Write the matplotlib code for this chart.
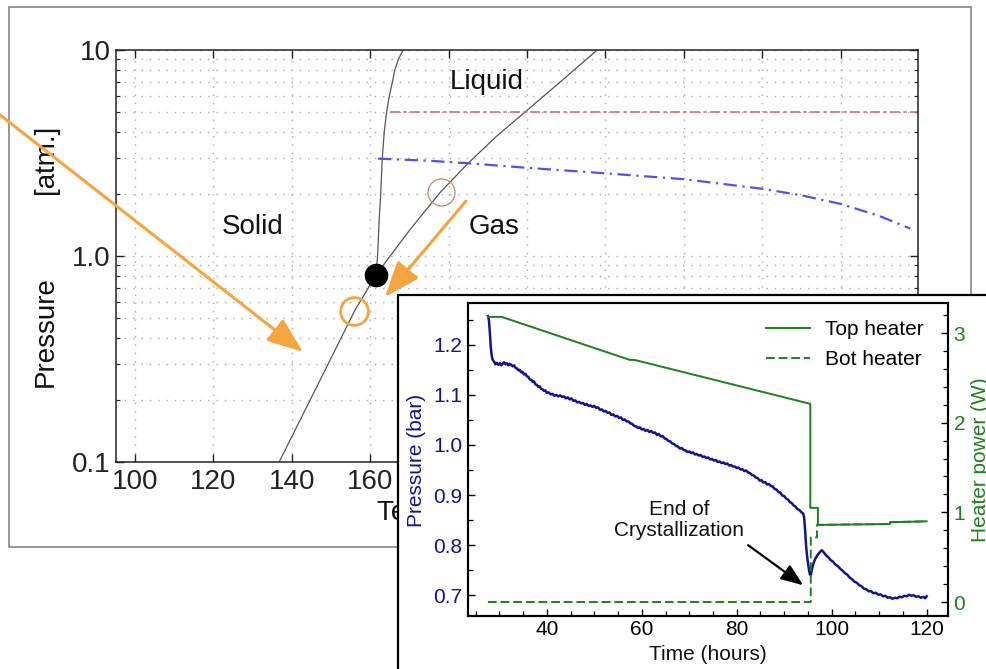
import matplotlib
matplotlib.use("Agg")
import matplotlib.pyplot as plt
from matplotlib.patches import Rectangle, FancyArrowPatch
from matplotlib.transforms import Bbox
from matplotlib.ticker import FixedLocator, FixedFormatter, NullFormatter, MultipleLocator, FormatStrFormatter

plt.rcParams['font.family'] = ['Liberation Sans', 'DejaVu Sans']

W, H, DPI = 986, 669, 100


def fx(px):
    return px / W


def fy(py):
    return 1 - py / H


# ---------------- Xenon phase diagram ----------------
melt_T = [161.5, 161.9, 162.3, 162.7, 163.1, 163.6, 164.2, 164.9, 165.7, 166.3, 167.2, 168.4]
melt_P = [0.81, 1.0, 1.5, 2.0, 3.0, 4.0, 5.0, 6.0, 7.0, 8.0, 9.0, 10.0]

vap_T = [136.8, 146.0, 156.0, 161.5, 170.0, 178.0, 185.0, 192.0, 199.5, 208.5, 217.9]
vap_P = [0.10, 0.224, 0.54, 0.81, 1.33, 2.05, 2.82, 3.78, 5.0, 7.0, 10.0]

operating_T = [165.0, 300.0]
operating_P = [5.0, 5.0]

sat_T = [162.0, 175.0, 185.0, 200.0, 220.0, 240.0, 260.0, 270.0, 280.0, 290.0, 297.7]
sat_P = [2.97, 2.90, 2.82, 2.68, 2.52, 2.36, 2.12, 1.97, 1.79, 1.56, 1.36]

triple_point = (161.5, 0.81)
fill_point = (178.0, 2.05)
freeze_point = (156.0, 0.54)

temp_ticks = [100, 120, 140, 160, 180, 200, 220, 240, 260, 280]
pres_ticks = [0.1, 1.0, 10.0]
pres_tick_labels = ['0.1', '1.0', '10']

phase_names = ['Liquid', 'Solid', 'Gas']
phase_T = [189.7, 130.1, 191.7]
phase_P = [7.0, 1.39, 1.39]

# ---------------- Crystallization run ----------------
run_time = [
    27.6, 27.8, 28.0, 28.2, 28.4, 28.6, 28.9, 29.2, 29.5, 29.8, 30.1, 30.4, 30.7, 31.0, 31.3, 31.6,
    31.9, 32.2, 32.5, 32.8, 33.1, 33.4, 33.7, 34.0, 34.3, 34.6, 34.9, 35.2, 35.5, 35.8, 36.1, 36.4,
    36.7, 37.0, 37.3, 37.6, 37.9, 38.2, 38.5, 38.8, 39.1, 39.4, 39.7, 40.0, 40.4, 40.8, 41.2, 41.6,
    42.0, 42.4, 42.8, 43.2, 43.6, 44.0, 44.4, 44.8, 45.2, 45.6, 46.0, 46.4, 46.8, 47.2, 47.6, 48.0,
    48.4, 48.8, 49.2, 49.6, 50.0, 50.4, 50.8, 51.2, 51.6, 52.0, 52.4, 52.8, 53.2, 53.6, 54.0, 54.4,
    54.8, 55.2, 55.6, 56.0, 56.4, 56.8, 57.2, 57.6, 58.0, 58.4, 58.8, 59.2, 59.6, 60.0, 60.4, 60.8,
    61.2, 61.6, 62.0, 62.4, 62.8, 63.2, 63.6, 64.0, 64.4, 64.8, 65.2, 65.6, 66.0, 66.4, 66.8, 67.2,
    67.6, 68.0, 68.4, 68.8, 69.2, 69.6, 70.0, 70.4, 70.8, 71.2, 71.6, 72.0, 72.4, 72.8, 73.2, 73.6,
    74.0, 74.4, 74.8, 75.2, 75.6, 76.0, 76.4, 76.8, 77.2, 77.6, 78.0, 78.4, 78.8, 79.2, 79.6, 80.0,
    80.4, 80.8, 81.2, 81.6, 82.0, 82.4, 82.8, 83.2, 83.6, 84.0, 84.4, 84.8, 85.2, 85.6, 86.0, 86.4,
    86.8, 87.2, 87.6, 88.0, 88.4, 88.8, 89.2, 89.6, 90.0, 90.4, 90.8, 91.2, 91.6, 92.0, 92.4, 92.8,
    93.2, 93.6, 94.0, 94.2, 94.4, 94.6, 94.8, 95.0, 95.2, 95.4, 95.6, 95.8, 96.1, 96.5, 97.0, 97.5,
    97.9, 98.3, 98.8, 99.3, 99.8, 100.3, 100.8, 101.3, 101.8, 102.3, 102.8, 103.3, 103.8, 104.3,
    104.8, 105.3, 105.8, 106.3, 106.8, 107.3, 107.8, 108.3, 108.8, 109.3, 109.8, 110.3, 110.8,
    111.3, 111.8, 112.3, 112.8, 113.3, 113.8, 114.3, 114.8, 115.3, 115.8, 116.3, 116.8, 117.3,
    117.8, 118.3, 118.8, 119.3, 119.7, 120.0,
]
run_pressure = [
    1.257, 1.250, 1.225, 1.195, 1.178, 1.170, 1.166, 1.161, 1.164, 1.160, 1.163, 1.159, 1.162, 1.165, 1.161, 1.163,
    1.159, 1.162, 1.160, 1.157, 1.159, 1.154, 1.153, 1.149, 1.150, 1.145, 1.146, 1.141, 1.142, 1.137, 1.136, 1.131,
    1.130, 1.126, 1.127, 1.121, 1.120, 1.116, 1.117, 1.112, 1.111, 1.108, 1.109, 1.104, 1.105, 1.101, 1.102, 1.098,
    1.100, 1.097, 1.099, 1.096, 1.097, 1.093, 1.095, 1.091, 1.093, 1.088, 1.089, 1.085, 1.086, 1.083, 1.084, 1.080,
    1.082, 1.078, 1.079, 1.076, 1.078, 1.074, 1.075, 1.070, 1.071, 1.067, 1.068, 1.064, 1.065, 1.060, 1.061, 1.057,
    1.058, 1.054, 1.055, 1.050, 1.051, 1.047, 1.047, 1.043, 1.042, 1.038, 1.037, 1.034, 1.035, 1.031, 1.032, 1.028,
    1.030, 1.026, 1.028, 1.024, 1.025, 1.020, 1.022, 1.017, 1.018, 1.013, 1.012, 1.008, 1.007, 1.003, 1.002, 0.998,
    0.997, 0.993, 0.994, 0.990, 0.989, 0.986, 0.987, 0.984, 0.985, 0.981, 0.982, 0.979, 0.980, 0.976, 0.977, 0.974,
    0.975, 0.971, 0.972, 0.969, 0.970, 0.966, 0.967, 0.964, 0.965, 0.962, 0.963, 0.959, 0.960, 0.957, 0.957, 0.954,
    0.955, 0.951, 0.952, 0.948, 0.949, 0.945, 0.944, 0.940, 0.939, 0.935, 0.934, 0.929, 0.930, 0.925, 0.926, 0.921,
    0.922, 0.918, 0.917, 0.912, 0.911, 0.906, 0.905, 0.899, 0.898, 0.893, 0.891, 0.886, 0.884, 0.879, 0.877, 0.872,
    0.870, 0.866, 0.863, 0.855, 0.830, 0.800, 0.780, 0.765, 0.752, 0.742, 0.740, 0.750, 0.762, 0.772, 0.780, 0.786,
    0.790, 0.786, 0.780, 0.776, 0.770, 0.767, 0.761, 0.758, 0.753, 0.749, 0.744, 0.741, 0.735, 0.732,
    0.727, 0.725, 0.720, 0.718, 0.713, 0.712, 0.708, 0.708, 0.704, 0.705, 0.701, 0.702, 0.698,
    0.699, 0.695, 0.696, 0.693, 0.695, 0.694, 0.697, 0.696, 0.699, 0.698, 0.701, 0.699, 0.700,
    0.697, 0.698, 0.695, 0.697, 0.694, 0.698,
]

top_heater_time = [27.6, 30.5, 57.5, 58.5, 95.5, 95.5, 97.1, 97.1, 112.3, 112.3, 120.0]
top_heater_W = [3.18, 3.18, 2.70, 2.70, 2.21, 1.05, 1.05, 0.86, 0.87, 0.89, 0.90]

bot_heater_time = [27.6, 95.6, 95.6, 96.9, 96.9, 112.3, 112.3, 120.0]
bot_heater_W = [0.0, 0.0, 0.72, 0.72, 0.86, 0.87, 0.89, 0.90]

end_of_crystallization = (94.0, 0.72)

ORANGE = '#f5a540'
NAVY = '#14148a'
GREEN = '#1f7f1f'

fig = plt.figure(figsize=(W / DPI, H / DPI), dpi=DPI)
fig.patch.set_facecolor('white')

# ---------------- phase diagram axes ----------------
ax = fig.add_axes([fx(116), fy(462), (918 - 116) / W, (462 - 50) / H])
ax.set_yscale('log')
ax.set_xlim(95.2, 299.7)
ax.set_ylim(0.1, 10)
ax.set_axisbelow(True)

ax.xaxis.set_major_locator(FixedLocator(temp_ticks))
ax.xaxis.set_major_formatter(FixedFormatter([str(t) for t in temp_ticks]))
ax.xaxis.set_minor_locator(FixedLocator([]))
ax.yaxis.set_major_locator(FixedLocator(pres_ticks))
ax.yaxis.set_major_formatter(FixedFormatter(pres_tick_labels))
ax.yaxis.set_minor_locator(FixedLocator([m * 10.0 ** e for e in (-1, 0) for m in range(2, 10)]))
ax.yaxis.set_minor_formatter(NullFormatter())

ax.tick_params(which='both', direction='in', top=True, right=True, labelsize=20, colors='#222222')
ax.tick_params(which='major', length=6, width=1.0)
ax.tick_params(which='minor', length=3, width=0.8)
ax.tick_params(axis='x', pad=5)
ax.tick_params(axis='y', pad=4)
for s in ax.spines.values():
    s.set_linewidth(1.1)
    s.set_color('#222222')

ax.grid(True, axis='x', which='major', ls=(0, (1, 5)), color='#a8a8a8', lw=1.0)
ax.grid(True, axis='y', which='both', ls=(0, (1, 5)), color='#a8a8a8', lw=1.0)

ax.plot(melt_T, melt_P, color='#555555', lw=0.9)
ax.plot(vap_T, vap_P, color='#555555', lw=0.9)
ax.plot(operating_T, operating_P, color='#cc7373', lw=1.2, ls=(0, (6, 2, 2, 2)))
ax.plot(sat_T, sat_P, color='#5252ea', lw=1.6, ls=(0, (6, 2.5, 1, 2.5)))

ax.plot(*fill_point, 'o', ms=19.5, mfc='none', mec='#d27b7b', mew=0.9)
ax.plot(*freeze_point, 'o', ms=20, mfc='none', mec=ORANGE, mew=2.0)
ax.plot(*triple_point, 'o', ms=16, color='black', zorder=5)

for name, t, p in zip(phase_names, phase_T, phase_P):
    ax.text(t, p, name, fontsize=20, ha='center', va='center', color='#111111')

fig.text(fx(46), fy(332), 'Pressure', rotation=90, ha='center', va='center', fontsize=20, color='#111111')
fig.text(fx(46), fy(159), '[atm.]', rotation=90, ha='center', va='center', fontsize=20, color='#111111')
xlabel = fig.text(fx(377), fy(513), 'Temperature [K]', ha='left', va='center', fontsize=20,
                  color='#111111', zorder=0.5)
xlabel.set_clip_box(Bbox([[0, 0], [fx(398) * W, H]]))

fig.add_artist(Rectangle((fx(9), fy(547)), (971 - 9) / W, (547 - 7) / H, transform=fig.transFigure,
                         fill=False, ec='#7a7a7a', lw=1.1, zorder=0.6))

for start, end in [((-5, 111), (303, 352)), ((466, 201), (385, 297))]:
    fig.add_artist(FancyArrowPatch((fx(start[0]), fy(start[1])), (fx(end[0]), fy(end[1])),
                                   transform=fig.transFigure, arrowstyle='-|>,head_length=1.1,head_width=0.42',
                                   mutation_scale=20, color=ORANGE, lw=2.2, shrinkA=0, shrinkB=0, zorder=4))

# ---------------- crystallization inset ----------------
fig.add_artist(Rectangle((fx(398), fy(720)), (1020 - 398) / W, (720 - 295) / H, transform=fig.transFigure,
                         fc='white', ec='black', lw=1.6, zorder=1))

axp = fig.add_axes([fx(468), fy(616), (948 - 468) / W, (616 - 303) / H], zorder=2)
axh = axp.twinx()
axh.set_zorder(3)
axh.patch.set_visible(False)

axp.set_xlim(23.4, 124.5)
axp.set_ylim(0.6586, 1.2834)
axh.set_ylim(-0.156, 3.335)

axp.plot(run_time, run_pressure, color=NAVY, lw=1.8)
axh.plot(top_heater_time, top_heater_W, color=GREEN, lw=1.4, label='Top heater')
axh.plot(bot_heater_time, bot_heater_W, color=GREEN, lw=1.4, ls=(0, (4.5, 2)), label='Bot heater')

axp.xaxis.set_major_locator(MultipleLocator(20))
axp.xaxis.set_minor_locator(MultipleLocator(5))
axp.yaxis.set_major_locator(MultipleLocator(0.1))
axp.yaxis.set_minor_locator(MultipleLocator(0.05))
axp.yaxis.set_major_formatter(FormatStrFormatter('%.1f'))
axh.yaxis.set_major_locator(MultipleLocator(1))
axh.yaxis.set_minor_locator(MultipleLocator(0.2))

axp.tick_params(which='both', direction='in', top=False, right=False, labelsize=15)
axp.tick_params(axis='y', which='both', labelcolor=NAVY, pad=4)
axp.tick_params(axis='x', pad=3)
axp.tick_params(which='major', length=5, width=1.0)
axp.tick_params(which='minor', length=3.5, width=0.9)
axh.tick_params(which='both', direction='in', labelsize=15, labelcolor=GREEN, pad=4)
axh.tick_params(which='major', length=5, width=1.0)
axh.tick_params(which='minor', length=3.5, width=0.9)
for a in (axp, axh):
    for s in a.spines.values():
        s.set_linewidth(1.5)
        s.set_color('black')

axp.annotate('', xy=end_of_crystallization, xytext=(82.4, 0.80),
             arrowprops=dict(arrowstyle='-|>,head_length=0.9,head_width=0.35', color='black', lw=1.6,
                             mutation_scale=15, shrinkA=0, shrinkB=0))
axp.text(67.9, 0.850, 'End of\nCrystallization', ha='center', va='center', fontsize=15,
         linespacing=1.1, color='#111111')

axh.legend(loc='upper left', bbox_to_anchor=(fx(766), fy(320)), bbox_transform=fig.transFigure,
           frameon=False, fontsize=15, handlelength=2.1, handletextpad=0.75, labelspacing=0.55,
           borderpad=0, borderaxespad=0)

fig.text(fx(416), fy(460), 'Pressure (bar)', rotation=90, ha='center', va='center', fontsize=15, color=NAVY)
fig.text(fx(981), fy(460), 'Heater power (W)', rotation=90, ha='center', va='center', fontsize=15, color=GREEN)
fig.text(fx(708), fy(655), 'Time (hours)', ha='center', va='center', fontsize=15, color='#111111')

fig.savefig('out.png', dpi=DPI, facecolor='white')
